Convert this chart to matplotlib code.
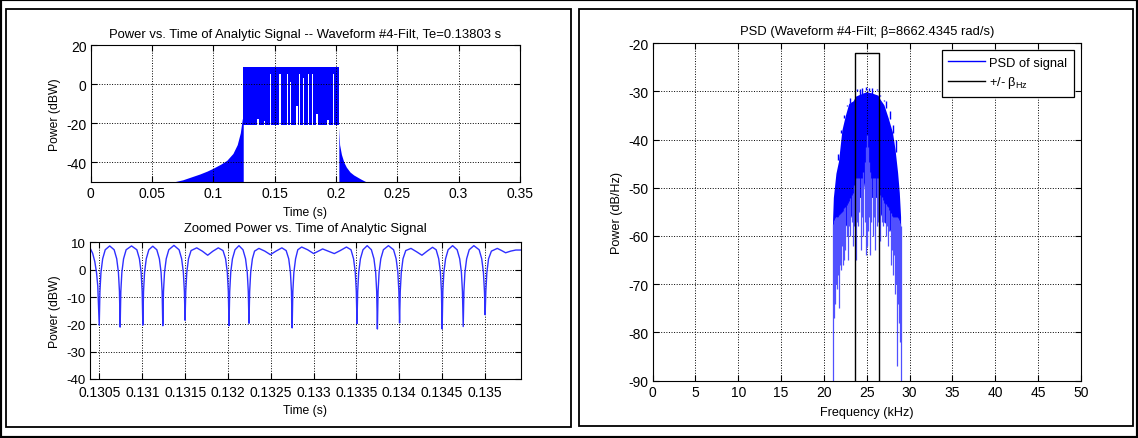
import matplotlib
matplotlib.use("Agg")
import matplotlib.pyplot as plt
from matplotlib.patches import Rectangle
from matplotlib.ticker import FuncFormatter
import numpy as np

plt.rcParams['font.family'] = ['Liberation Sans', 'DejaVu Sans']
plt.rcParams['axes.unicode_minus'] = False

# --- power vs time (full record) ---
tail_l_t = [0.068, 0.075, 0.082, 0.089, 0.095, 0.100, 0.106, 0.111, 0.116, 0.1195, 0.122, 0.1236, 0.1244]
tail_l_p = [-50, -49, -47.5, -46, -44.5, -43, -41, -39, -35.5, -31, -25, -18, -16]
tail_r_t = [0.2024, 0.2030, 0.2045, 0.2065, 0.2085, 0.2115, 0.2145, 0.2200, 0.2246]
tail_r_p = [-22, -31, -36, -40, -42.5, -45, -46.5, -48.5, -50]
block_start, block_end = 0.1244, 0.2024
block_top, block_floor = 8.8, -21.0
# spots where the envelope never drops to the floor
gap_t = [0.1365, 0.1420, 0.1465, 0.1545, 0.1568, 0.1605, 0.1628, 0.1682, 0.1703, 0.1734,
         0.1776, 0.1805, 0.1821, 0.1845, 0.1935, 0.1979]
gap_w = [0.0010, 0.0008, 0.0008, 0.0012, 0.0007, 0.0012, 0.0007, 0.0020, 0.0011, 0.0008,
         0.0014, 0.0008, 0.0007, 0.0014, 0.0010, 0.0011]
gap_p = [-18, -19, 5, 5, -7.7, 5, 1, -11, 5, 3, 5, 5, -2.6, -15.5, -18.5, 5]

# --- zoomed power vs time ---
zoom_t = [
    0.130392, 0.130420, 0.130445, 0.130465, 0.130480, 0.130489, 0.130497,
    0.130505, 0.130517, 0.130537, 0.130567, 0.130619, 0.130671, 0.130701, 0.130721, 0.130733, 0.130741,
    0.130749, 0.130761, 0.130781, 0.130811, 0.130874, 0.130936, 0.130966, 0.130986, 0.130998, 0.131006,
    0.131014, 0.131026, 0.131046, 0.131076, 0.131122, 0.131169, 0.131199, 0.131219, 0.131231, 0.131239,
    0.131247, 0.131259, 0.131279, 0.131309, 0.131369, 0.131429, 0.131459, 0.131479, 0.131491, 0.131499,
    0.131507, 0.131519, 0.131539, 0.131569, 0.131635, 0.131700, 0.131763, 0.131825, 0.131887, 0.131942,
    0.131972, 0.131992, 0.132004, 0.132012,
    0.132020, 0.132032, 0.132052, 0.132082, 0.132128, 0.132175, 0.132205, 0.132225, 0.132237, 0.132245,
    0.132253, 0.132265, 0.132285, 0.132310, 0.132361, 0.132430, 0.132495, 0.132560, 0.132629, 0.132679,
    0.132709, 0.132729, 0.132741, 0.132749,
    0.132757, 0.132769, 0.132789, 0.132815, 0.132860, 0.132930, 0.133000, 0.133055, 0.133105, 0.133170,
    0.133241, 0.133310, 0.133383, 0.133436, 0.133466, 0.133486, 0.133498, 0.133506,
    0.133514, 0.133526, 0.133546, 0.133576, 0.133625, 0.133674, 0.133704, 0.133724, 0.133736, 0.133744,
    0.133752, 0.133764, 0.133784, 0.133814, 0.133873, 0.133933, 0.133963, 0.133983, 0.133995, 0.134003,
    0.134011, 0.134023, 0.134043, 0.134075, 0.134136, 0.134200, 0.134264, 0.134325, 0.134388, 0.134430,
    0.134460, 0.134480, 0.134492, 0.134500,
    0.134508, 0.134520, 0.134540, 0.134570, 0.134622, 0.134675, 0.134705, 0.134725, 0.134737, 0.134746,
    0.134754, 0.134766, 0.134786, 0.134816, 0.134870, 0.134932, 0.134962, 0.134982, 0.134994, 0.135002,
    0.135010, 0.135022, 0.135042, 0.135075, 0.135144, 0.135195, 0.135241, 0.135300, 0.135360, 0.135415,
]
zoom_p = [
    7.8, 6.0, 3.0, -1, -6, -14, -20.3,
    -8, -1, 4, 7.3, 8.7, 7.3, 4, -1, -8, -21.0,
    -8, -1, 4, 7.3, 8.7, 7.3, 4, -1, -8, -20.3,
    -8, -1, 4, 7.3, 8.6, 7.3, 4, -1, -8, -20.5,
    -8, -1, 4, 7.3, 8.9, 7.3, 4, -1, -8, -18.5,
    -8, -1, 4, 7.0, 8.0, 6.8, 5.3, 6.8, 8.0, 7.0,
    4, -1, -8, -20.5,
    -8, -1, 4, 7.3, 8.8, 7.3, 4, -1, -8, -19.6,
    -8, -1, 4, 6.8, 7.8, 6.8, 5.5, 6.8, 8.0, 7.0,
    4, -1, -8, -21.3,
    -8, -1, 4, 7.3, 8.3, 7.3, 5.9, 6.8, 7.6, 6.8,
    5.9, 7.0, 8.3, 7.3, 4, -1, -8, -19.7,
    -8, -1, 4, 7.3, 8.8, 7.3, 4, -1, -8, -21.7,
    -8, -1, 4, 7.3, 8.8, 7.3, 4, -1, -8, -19.5,
    -8, -1, 4, 7.0, 7.8, 6.6, 5.3, 6.8, 8.2, 7.3,
    4, -1, -8, -21.7,
    -8, -1, 4, 7.3, 8.8, 7.3, 4, -1, -8, -20.8,
    -8, -1, 4, 7.3, 8.8, 7.3, 4, -1, -8, -16.5,
    -8, -1, 4, 6.8, 7.8, 7.0, 6.2, 6.8, 7.2, 7.2,
]

# --- PSD ---
beta = 8662.4345          # rad/s
f_center = 25.0           # kHz
box_top = -22
psd_f = [21.0, 21.1, 21.4, 21.7, 22.1, 22.5, 22.9, 23.4, 23.7, 24.5, 24.8, 25.0,
         25.2, 25.5, 26.3, 26.5, 27.0, 27.5, 28.0, 28.3, 28.6, 28.8, 28.95]
psd_hi = [-57, -52, -47, -44.5, -38, -35, -32.5, -32, -31, -30.4, -30.2, -30,
          -30.2, -30.3, -30.8, -31.5, -32.8, -35.5, -38.5, -42, -46.8, -51, -56]
psd_lo = [-62, -61, -60, -60, -59, -58, -57, -55, -52, -52, -48, -43,
          -48, -52, -52, -55, -57, -58, -60, -60, -60, -61, -62]
# deep nulls in the spectrum
spike_f = [21.05, 21.12, 21.2, 21.3, 21.38, 21.45, 21.52, 21.6, 21.7, 21.8, 21.9, 22.0,
           22.1, 22.2, 22.3, 22.4, 22.5, 22.65, 22.8, 22.95, 23.1, 23.25, 23.4, 23.55,
           23.7, 23.85, 24.0, 24.15, 24.3, 24.45, 24.6, 24.75, 24.9, 25.0, 25.1, 25.25,
           25.4, 25.55, 25.7, 25.85, 26.0, 26.15, 26.3, 26.45, 26.6, 26.75, 26.9, 27.05,
           27.2, 27.35, 27.5, 27.65, 27.8, 27.95, 28.1, 28.2, 28.35, 28.45, 28.55, 28.65,
           28.75, 28.85, 28.95]
spike_db = [-90, -77, -72, -74, -70, -66, -71, -68, -64, -75, -66, -67,
            -62, -66, -61, -65, -63, -60, -65, -58, -60, -57, -62, -58,
            -65, -57, -58, -55, -63, -56, -60, -57, -64, -62, -59, -56,
            -64, -57, -60, -56, -63, -58, -57, -55, -61, -57, -58, -57,
            -60, -58, -62, -59, -66, -63, -68, -64, -72, -70, -87, -74,
            -78, -82, -90]
# local maxima poking above the main envelope
peak_f = [21.6, 22.0, 22.3, 22.7, 23.1, 23.4, 23.9, 24.2, 24.5, 24.9, 25.3, 25.6,
          26.2, 26.6, 27.0, 27.3, 27.7, 28.1, 28.4]
peak_db = [-43, -38, -35, -33, -32.5, -31, -29.5, -31, -30.5, -29.8, -30, -30.5,
           -29.5, -31, -32, -32, -34, -37, -40]


def matlab_axes(ax):
    ax.grid(True, linestyle=':', color='black', linewidth=0.7)
    ax.tick_params(direction='in', top=True, right=True, length=4, labelsize=10, pad=3)
    for s in ax.spines.values():
        s.set_linewidth(0.8)


fig = plt.figure(figsize=(11.38, 4.39), dpi=100)

ax1 = fig.add_axes([0.0797, 0.5836, 0.3771, 0.3116])
ax1.fill_between(tail_l_t, tail_l_p, -55, color='b', linewidth=0)
ax1.fill_between(tail_r_t, tail_r_p, -55, color='b', linewidth=0)
lo_t, lo_p = [block_start], [block_floor]
for c, w, p in zip(gap_t, gap_w, gap_p):
    lo_t += [c - w / 2, c - w / 2, c + w / 2, c + w / 2]
    lo_p += [block_floor, p, p, block_floor]
lo_t.append(block_end)
lo_p.append(block_floor)
ax1.fill_between(lo_t, lo_p, block_top, color='b', linewidth=0)
ax1.set_xlim(0, 0.35)
ax1.set_ylim(-50, 20)
ax1.set_xticks(np.arange(0, 0.351, 0.05))
ax1.set_yticks([-40, -20, 0, 20])
ax1.xaxis.set_major_formatter(FuncFormatter(lambda v, p: '%g' % round(v, 4)))
ax1.set_title('Power vs. Time of Analytic Signal -- Waveform #4-Filt, Te=0.13803 s', fontsize=9.4, pad=5.5)
ax1.set_xlabel('Time (s)', fontsize=8.7, labelpad=4)
ax1.set_ylabel('Power (dBW)', fontsize=8.7)
matlab_axes(ax1)

ax2 = fig.add_axes([0.0793, 0.1344, 0.3781, 0.3112])
ax2.plot(zoom_t, zoom_p, color='#2f2fff', linewidth=1.0)
ax2.set_xlim(0.130392, 0.135415)
ax2.set_ylim(-40, 10)
ax2.set_xticks(np.arange(0.1305, 0.13501, 0.0005))
ax2.set_yticks(np.arange(-40, 11, 10))
ax2.xaxis.set_major_formatter(FuncFormatter(lambda v, p: '%g' % round(v, 5)))
ax2.set_title('Zoomed Power vs. Time of Analytic Signal', fontsize=9.4, pad=8.5)
ax2.set_xlabel('Time (s)', fontsize=8.7, labelpad=4)
ax2.set_ylabel('Power (dBW)', fontsize=8.7)
matlab_axes(ax2)
ax2.tick_params(axis='x', pad=4)
ax2.tick_params(axis='y', labelsize=9.5)

ax3 = fig.add_axes([0.5735, 0.1305, 0.3763, 0.7692])
ax3.fill_between(psd_f, psd_lo, psd_hi, color='b', linewidth=0)
ax3.vlines(spike_f, np.interp(spike_f, psd_f, psd_lo) + 4, spike_db, color='#5050ff', linewidth=0.9)
ax3.vlines(peak_f, np.interp(peak_f, psd_f, psd_hi) + 1, peak_db, color='b', linewidth=1.0)
ax3.plot([], [], color='b', linewidth=1.0, label='PSD of signal')
b_hz = beta / (2 * np.pi) / 1000
ax3.plot([f_center - b_hz, f_center - b_hz, f_center + b_hz, f_center + b_hz],
         [-90, box_top, box_top, -90], color='black', linewidth=1.0,
         label='+/- $\\mathregular{\\beta_{Hz}}$')
ax3.set_xlim(0, 50)
ax3.set_ylim(-90, -20)
ax3.set_xticks(np.arange(0, 51, 5))
ax3.set_yticks(np.arange(-90, -19, 10))
ax3.set_title('PSD (Waveform #4-Filt; \u03b2=8662.4345 rad/s)', fontsize=9.4, pad=6.5)
ax3.set_xlabel('Frequency (kHz)', fontsize=9.1, labelpad=5)
ax3.set_ylabel('Power (dB/Hz)', fontsize=9.1)
matlab_axes(ax3)
leg = ax3.legend(loc='upper right', fontsize=9.3, fancybox=False, framealpha=1,
                 edgecolor='black', borderaxespad=0.55, handlelength=2.9,
                 handletextpad=0.3, labelspacing=0.45, borderpad=0.5)
leg.get_frame().set_linewidth(0.9)

# panel frames and outer border
fig.patches.append(Rectangle((5.5 / 1138, 1 - 428 / 439), (571 - 5.5) / 1138, (428 - 9.5) / 439,
                             transform=fig.transFigure, fill=False, edgecolor='black', linewidth=1.3))
fig.patches.append(Rectangle((579 / 1138, 1 - 427 / 439), (1133 - 579) / 1138, (427 - 10) / 439,
                             transform=fig.transFigure, fill=False, edgecolor='black', linewidth=1.3))
fig.patches.append(Rectangle((0, 0), 1, 1, transform=fig.transFigure, fill=False,
                             edgecolor='black', linewidth=3))

fig.savefig('out.png', dpi=100)
